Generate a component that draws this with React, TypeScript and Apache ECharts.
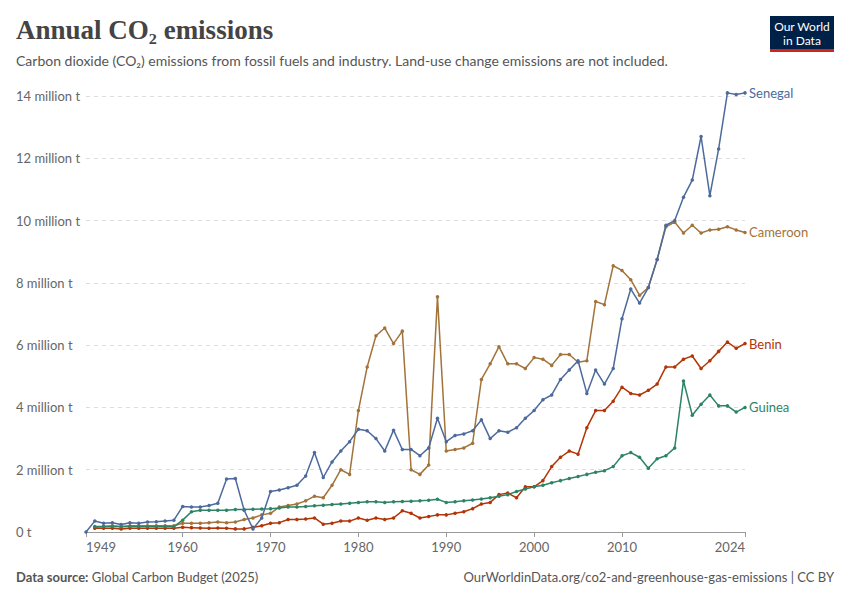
import React, { useEffect, useRef } from "react";
import * as echarts from "echarts";

const years: number[] = [];
for (let y = 1949; y <= 2024; y++) years.push(y);

const senegal = [0, 0.35, 0.28, 0.3, 0.24, 0.3, 0.28, 0.32, 0.33, 0.35, 0.38,
  0.82, 0.8, 0.8, 0.85, 0.92, 1.7, 1.72, 0.7, 0.1, 0.45,
  1.3, 1.35, 1.42, 1.5, 1.8, 2.55, 1.75, 2.25, 2.6, 2.9,
  3.3, 3.25, 3.0, 2.6, 3.27, 2.65, 2.65, 2.45, 2.7, 3.65,
  2.9, 3.1, 3.15, 3.25, 3.6, 3.0, 3.25, 3.2, 3.35, 3.65,
  3.9, 4.25, 4.4, 4.9, 5.2, 5.5, 4.45, 5.2, 4.75, 5.25,
  6.85, 7.8, 7.35, 7.85, 8.75, 9.85, 10.0, 10.75, 11.3, 12.7,
  10.8, 12.3, 14.1, 14.05, 14.1];

const cameroon = [null, 0.15, 0.18, 0.2, 0.18, 0.2, 0.2, 0.2, 0.2, 0.2, 0.2,
  0.28, 0.28, 0.28, 0.3, 0.32, 0.3, 0.32, 0.4, 0.45, 0.55,
  0.6, 0.8, 0.85, 0.9, 1.0, 1.15, 1.1, 1.5, 2.0, 1.85,
  3.9, 5.3, 6.3, 6.55, 6.05, 6.45, 2.0, 1.85, 2.15, 7.55,
  2.6, 2.65, 2.7, 2.85, 4.9, 5.4, 5.95, 5.4, 5.4, 5.25,
  5.6, 5.55, 5.35, 5.7, 5.7, 5.45, 5.5, 7.4, 7.3, 8.55,
  8.4, 8.1, 7.6, 7.85, 8.75, 9.8, 9.95, 9.6, 9.85, 9.6,
  9.7, 9.72, 9.8, 9.7, 9.62];

const benin = [null, 0.12, 0.12, 0.12, 0.1, 0.12, 0.12, 0.12, 0.12, 0.12, 0.12,
  0.15, 0.14, 0.13, 0.12, 0.13, 0.12, 0.1, 0.1, 0.15, 0.2,
  0.28, 0.3, 0.4, 0.4, 0.42, 0.45, 0.25, 0.28, 0.35, 0.35,
  0.45, 0.38, 0.45, 0.4, 0.45, 0.68, 0.6, 0.45, 0.5, 0.55,
  0.55, 0.6, 0.65, 0.75, 0.9, 0.95, 1.2, 1.25, 1.1, 1.45,
  1.45, 1.65, 2.1, 2.4, 2.6, 2.5, 3.35, 3.9, 3.9, 4.2,
  4.65, 4.45, 4.4, 4.55, 4.75, 5.3, 5.3, 5.55, 5.65, 5.25,
  5.5, 5.8, 6.1, 5.9, 6.05];

const guinea = [null, 0.18, 0.18, 0.18, 0.17, 0.18, 0.18, 0.18, 0.18, 0.18, 0.17,
  0.38, 0.65, 0.7, 0.7, 0.7, 0.7, 0.72, 0.72, 0.73, 0.74,
  0.75, 0.77, 0.8, 0.8, 0.82, 0.84, 0.86, 0.88, 0.9, 0.92,
  0.95, 0.97, 0.97, 0.95, 0.97, 0.98, 0.99, 1.0, 1.02, 1.05,
  0.95, 0.97, 1.0, 1.03, 1.06, 1.1, 1.15, 1.2, 1.3, 1.38,
  1.45, 1.5, 1.58, 1.65, 1.72, 1.78, 1.85, 1.92, 1.97, 2.1,
  2.45, 2.55, 2.4, 2.05, 2.35, 2.45, 2.7, 4.85, 3.75, 4.1,
  4.4, 4.05, 4.05, 3.85, 4.0];

const xTicks = [1949, 1960, 1970, 1980, 1990, 2000, 2010, 2024];

const seriesDefs = [
  { name: "Senegal", data: senegal, color: "#4c6a9c" },
  { name: "Cameroon", data: cameroon, color: "#a2733a" },
  { name: "Benin", data: benin, color: "#b13507" },
  { name: "Guinea", data: guinea, color: "#2c8465" },
];

export default function App() {
  const ref = useRef<HTMLDivElement>(null);
  useEffect(() => {
    document.body.style.margin = "0";
    const chart = echarts.init(ref.current!, null, { renderer: "svg" });
    const font = "Lato, 'Noto Sans', sans-serif";
    chart.setOption({
      animation: false,
      textStyle: { fontFamily: font },
      grid: { left: 86, right: 105, top: 96, bottom: 68, containLabel: false },
      xAxis: {
        type: "value",
        min: 1949,
        max: 2024,
        axisLine: { lineStyle: { color: "#999" } },
        axisTick: { show: true, customValues: xTicks, length: 5, lineStyle: { color: "#999" } },
        axisLabel: {
          customValues: xTicks, color: "#666", fontSize: 13, fontFamily: font,
          alignMinLabel: "left", alignMaxLabel: "right",
          formatter: (v: number) => String(v),
        },
        splitLine: { show: false },
      },
      yAxis: {
        type: "value",
        min: 0,
        max: 14,
        interval: 2,
        axisLine: { show: false },
        axisTick: { show: false },
        axisLabel: {
          color: "#666", fontSize: 13, fontFamily: font, align: "left", margin: 70,
          formatter: (v: number) => (v === 0 ? "0 t" : v + " million t"),
        },
        splitLine: { lineStyle: { type: [4, 4], color: "#ddd" } },
      },
      series: seriesDefs.map((s) => ({
        name: s.name,
        type: "line",
        data: years.map((y, i) => [y, s.data[i]]),
        color: s.color,
        symbol: "circle",
        symbolSize: 3.5,
        clip: false,
        lineStyle: { width: 1.5 },
        z: s.name === "Senegal" ? 5 : 3,
        endLabel: {
          show: true,
          formatter: s.name,
          color: s.color,
          fontSize: 13,
          fontFamily: font,
          distance: 4,
        },
      })),
      graphic: [
        { type: "text", left: 16, top: 16, style: { text: "Annual CO₂ emissions", font: "bold 27px 'Liberation Serif', serif", fill: "#444" } },
        { type: "text", left: 16, top: 53, style: { text: "Carbon dioxide (CO₂) emissions from fossil fuels and industry. Land-use change emissions are not included.", font: "14px " + font, fill: "#555" } },
        { type: "rect", shape: { x: 770, y: 16, width: 64, height: 36 }, style: { fill: "#002147" } },
        { type: "rect", shape: { x: 770, y: 49, width: 64, height: 3 }, style: { fill: "#ce261e" } },
        { type: "text", x: 802, y: 33, style: { text: "Our World\nin Data", font: "12px " + font, fill: "#fff", align: "center", verticalAlign: "middle", lineHeight: 14 } },
        { type: "text", left: 16, top: 570, style: { rich: { b: { font: "bold 13px " + font, fill: "#555" }, n: { font: "13px " + font, fill: "#555" } }, text: "{b|Data source:} {n|Global Carbon Budget (2025)}" } },
        { type: "text", right: 16, top: 570, style: { text: "OurWorldinData.org/co2-and-greenhouse-gas-emissions | CC BY", font: "13px " + font, fill: "#555" } },
      ],
    });
    return () => chart.dispose();
  }, []);
  return <div ref={ref} style={{ width: 850, height: 600 }} />;
}
